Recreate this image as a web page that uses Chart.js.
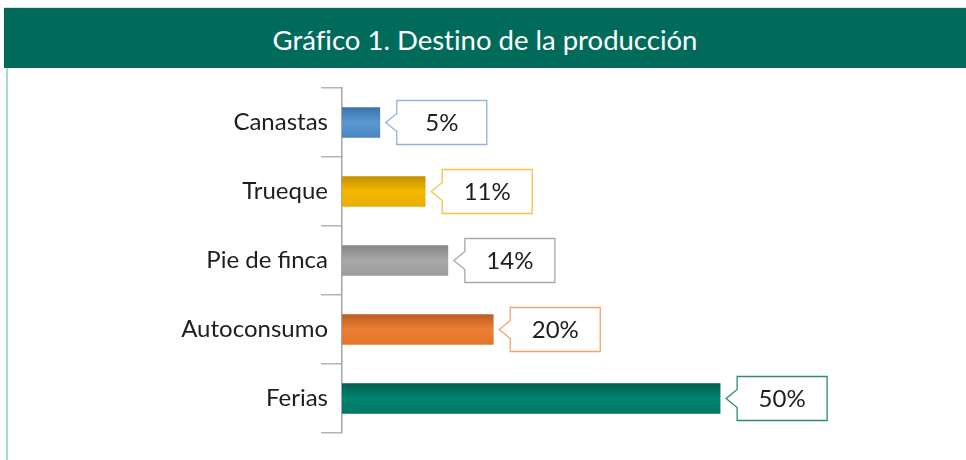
<!DOCTYPE html>
<html>
<head>
<meta charset="utf-8">
<script src="https://cdn.jsdelivr.net/npm/chart.js@4.4.1/dist/chart.umd.min.js"></script>
<style>
  html, body { margin: 0; padding: 0; background: #fff; }
  #wrap { position: relative; width: 966px; height: 460px; overflow: hidden; }
  #head {
    position: absolute; left: 4px; top: 7px; width: 962px; height: 61px;
    background: #006b5a; border-top: 1px solid #cfe6df;
    color: #fff; font-family: Lato, sans-serif; font-size: 27.5px; font-weight: 400;
    font-variant-ligatures: none;
    line-height: 64px; text-align: center; box-sizing: border-box;
  }
  #side { position: absolute; left: 6px; top: 68px; width: 2px; height: 392px; background: #a8dccb; }
  canvas { position: absolute; left: 0; top: 0; }
</style>
</head>
<body>
<div id="wrap">
  <div id="head">Gráfico 1. Destino de la producción</div>
  <div id="side"></div>
  <canvas id="myChart" width="966" height="460"></canvas>
</div>
<script>
const categories = ["Canastas", "Trueque", "Pie de finca", "Autoconsumo", "Ferias"];
const values = [5, 11, 14, 20, 50];
const valueLabels = ["5%", "11%", "14%", "20%", "50%"];

// top / centre / bottom shades of each bar, and callout border colour
const shades = [
    ["#3c73ad", "#5b98d2", "#4a85c2"],
    ["#c49000", "#f5b800", "#e8ae00"],
    ["#878787", "#a8a8a8", "#9c9c9c"],
    ["#bb5f22", "#ee7e33", "#e2742a"],
    ["#005e50", "#00836f", "#007866"]
];
const borders = ["#8fb4e3", "#f6c443", "#a8a8a8", "#f3a46e", "#2e8b79"];

function init() {

    const ctx = document.getElementById('myChart');

    const callouts = {
        id: 'callouts',
        afterDatasetsDraw(chart) {
            const c = chart.ctx;
            const meta = chart.getDatasetMeta(0);
            meta.data.forEach((bar, i) => {
                const x = bar.x, y = bar.y;
                const left = x + 17, w = 90, h = 44, top = y - h / 2;
                c.save();
                c.beginPath();
                c.moveTo(left, top);
                c.lineTo(left + w, top);
                c.lineTo(left + w, top + h);
                c.lineTo(left, top + h);
                c.lineTo(left, y + 9);
                c.lineTo(x + 6, y);
                c.lineTo(left, y - 9);
                c.closePath();
                c.fillStyle = '#fff';
                c.fill();
                c.lineWidth = 1.3;
                c.strokeStyle = borders[i];
                c.stroke();
                c.fillStyle = '#1e1e1e';
                c.font = '24px Lato, sans-serif';
                c.textAlign = 'center';
                c.textBaseline = 'middle';
                c.fillText(valueLabels[i], left + w / 2, y + 1);
                c.restore();
            });
        }
    };

    new Chart(ctx, {
        type: 'bar',
        data: {
            labels: categories,
            datasets: [{
                data: values,
                barThickness: 30,
                borderWidth: 0,
                backgroundColor: function (context) {
                    const i = context.dataIndex;
                    const ys = context.chart.scales.y;
                    if (!ys || i === undefined || !shades[i]) return shades[0][1];
                    const yc = ys.getPixelForValue(i);
                    if (!isFinite(yc)) return shades[i][1];
                    const g = context.chart.ctx.createLinearGradient(0, yc - 15, 0, yc + 15);
                    g.addColorStop(0, shades[i][0]);
                    g.addColorStop(0.5, shades[i][1]);
                    g.addColorStop(1, shades[i][2]);
                    return g;
                }
            }]
        },
        options: {
            indexAxis: 'y',
            responsive: false,
            animation: false,
            layout: {
                padding: { top: 88, bottom: 27, right: 19, left: 0 }
            },
            plugins: {
                legend: { display: false },
                title: { display: false },
                tooltip: { enabled: false }
            },
            scales: {
                x: {
                    display: false,
                    min: 0,
                    max: 80
                },
                y: {
                    afterFit(scale) { scale.width = 342; },
                    border: { display: true, color: '#a6a6a6', width: 1.5 },
                    grid: {
                        offset: true,
                        drawOnChartArea: false,
                        drawTicks: true,
                        tickLength: 21,
                        color: '#b4b4b4',
                        lineWidth: 1.5
                    },
                    ticks: {
                        padding: -7,
                        color: '#1e1e1e',
                        font: { family: 'Lato', size: 24 }
                    }
                }
            }
        },
        plugins: [callouts]
    });
}

window.onload = () => {
    init();
};
</script>
</body>
</html>
